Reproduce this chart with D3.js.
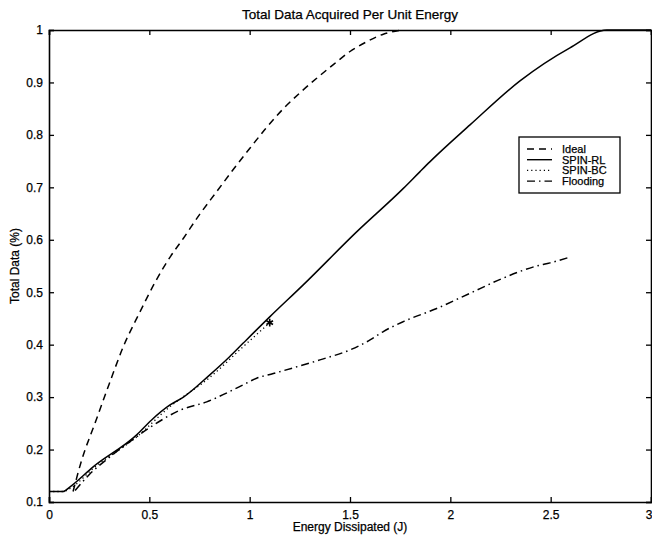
<!DOCTYPE html>
<html><head><meta charset="utf-8">
<script src="https://cdn.jsdelivr.net/npm/d3@7"></script>
<style>
html,body{margin:0;padding:0;background:#fff;}
svg text{font-family:"Liberation Sans",Arial,Helvetica,sans-serif;fill:#000;stroke:#000;stroke-width:0.25px;}
</style></head>
<body><svg id="c" width="652" height="537"></svg>
<script>
const title = "Total Data Acquired Per Unit Energy";
const xLabel = "Energy Dissipated (J)";
const yLabel = "Total Data (%)";
const xTicks = [0, 0.5, 1, 1.5, 2, 2.5, 3];
const yTicks = [0.1, 0.2, 0.3, 0.4, 0.5, 0.6, 0.7, 0.8, 0.9, 1];
const seriesNames = ["Ideal", "SPIN-RL", "SPIN-BC", "Flooding"];

const idealE = [0.12, 0.163, 0.229, 0.30, 0.37, 0.45, 0.53, 0.6, 0.67, 0.75, 0.836, 0.92, 1.0, 1.08, 1.168, 1.25, 1.334, 1.42, 1.5, 1.58, 1.666, 1.76];
const idealV = [0.12, 0.18, 0.25, 0.325, 0.396, 0.46, 0.52, 0.565, 0.603, 0.648, 0.692, 0.735, 0.774, 0.812, 0.85, 0.88, 0.908, 0.935, 0.959, 0.977, 0.992, 1.0];

const rlE = [0, 0.07, 0.105, 0.22, 0.437, 0.51, 0.603, 0.67, 0.80, 0.90, 0.968, 1.10, 1.267, 1.533, 1.766, 1.849, 1.899, 2.098, 2.347, 2.596, 2.78, 3.0];
const rlV = [0.12, 0.12, 0.129, 0.167, 0.228, 0.256, 0.285, 0.30, 0.342, 0.377, 0.403, 0.453, 0.514, 0.615, 0.698, 0.73, 0.749, 0.819, 0.903, 0.966, 1.0, 1.0];

const bcE = [0, 0.07, 0.11, 0.22, 0.44, 0.6, 0.8, 0.97, 1.1];
const bcV = [0.12, 0.12, 0.127, 0.164, 0.225, 0.281, 0.337, 0.397, 0.442];

const floodE = [0.13, 0.2, 0.3, 0.4, 0.495, 0.653, 0.786, 0.95, 1.035, 1.118, 1.35, 1.5, 1.6, 1.666, 1.766, 1.932, 2.098, 2.264, 2.43, 2.497, 2.596];
const floodV = [0.122, 0.152, 0.185, 0.214, 0.24, 0.275, 0.291, 0.32, 0.336, 0.345, 0.371, 0.39, 0.409, 0.425, 0.444, 0.469, 0.498, 0.527, 0.55, 0.556, 0.567];

const svg = d3.select("#c");
const L = 49, R = 651, T = 30, B = 502;
const x = d3.scaleLinear().domain([0, 3]).range([L, R]);
const y = d3.scaleLinear().domain([0.1, 1]).range([B, T]);

const g = svg.append("g");
svg.append("clipPath").attr("id","pc").append("rect")
  .attr("x", L).attr("y", T-1).attr("width", R-L).attr("height", B-T+1);

const line = d3.line().x(d => x(d[0])).y(d => y(d[1])).curve(d3.curveMonotoneX);
const zip = (a, b) => a.map((v, i) => [v, b[i]]);

const styles = {
  "Ideal": "7,5",
  "SPIN-RL": null,
  "SPIN-BC": "1.2,3",
  "Flooding": "8,4,1.5,4"
};
const data = {
  "Ideal": zip(idealE, idealV),
  "SPIN-RL": zip(rlE, rlV),
  "SPIN-BC": zip(bcE, bcV),
  "Flooding": zip(floodE, floodV)
};
const plot = g.append("g").attr("clip-path","url(#pc)");
seriesNames.forEach(n => {
  plot.append("path").datum(data[n]).attr("d", line)
    .attr("fill","none").attr("stroke","#000")
    .attr("stroke-width", n==="SPIN-BC" ? 1.3 : 1.5)
    .attr("stroke-dasharray", styles[n]);
});
const last = data["SPIN-BC"][data["SPIN-BC"].length-1];
plot.append("path").attr("d", d3.symbol().type(d3.symbolAsterisk || d3.symbolCross).size(40)())
  .attr("transform", `translate(${x(last[0])},${y(last[1])})`)
  .attr("fill","none").attr("stroke","#000").attr("stroke-width",1.6);

const tickLen = 5;
const fs = "12px";
const axB = d3.axisBottom(x).tickValues(xTicks).tickSize(-tickLen).tickPadding(8).tickFormat(d3.format("~g"));
const axT = d3.axisTop(x).tickValues(xTicks).tickSize(-tickLen).tickFormat("");
const axL = d3.axisLeft(y).tickValues(yTicks).tickSize(-tickLen).tickPadding(6).tickFormat(d3.format("~g"));
const axR = d3.axisRight(y).tickValues(yTicks).tickSize(-tickLen).tickFormat("");
[[axB, `translate(0,${B})`],[axT, `translate(0,${T})`],[axL, `translate(${L},0)`],[axR, `translate(${R},0)`]].forEach(([a, t]) => {
  const ga = g.append("g").attr("transform", t).call(a);
  ga.select(".domain").attr("stroke","#000").attr("stroke-width",1.6);
  ga.selectAll(".tick line").attr("stroke","#000").attr("stroke-width",1.3);
  ga.selectAll("text").style("font-size", fs).attr("fill","#000");
  if (a === axB) {
    ga.selectAll(".tick text").filter(d => d === 3).attr("text-anchor","end").attr("dx", "1px");
  }
});

g.append("text").attr("x", (L+R)/2).attr("y", 19).attr("text-anchor","middle")
  .style("font-size","13.5px").text(title);
g.append("text").attr("x", (L+R)/2).attr("y", 531).attr("text-anchor","middle")
  .style("font-size","12px").text(xLabel);
g.append("text").attr("transform", `translate(19,${(T+B)/2}) rotate(-90)`).attr("text-anchor","middle")
  .style("font-size","12px").text(yLabel);

const lx = 519, ly = 137, lw = 101, lh = 56;
const lg = g.append("g");
lg.append("rect").attr("x", lx).attr("y", ly).attr("width", lw).attr("height", lh)
  .attr("fill","#fff").attr("stroke","#000").attr("stroke-width",1.3);
const rowY = [149, 159.7, 170.4, 181.1];
seriesNames.forEach((n, i) => {
  lg.append("line").attr("x1", 527).attr("x2", 552).attr("y1", rowY[i]).attr("y2", rowY[i])
    .attr("stroke","#000").attr("stroke-width",1.4).attr("stroke-dasharray", styles[n]);
  lg.append("text").attr("x", 562).attr("y", rowY[i]).attr("dy","0.35em")
    .style("font-size","11px").text(n);
});
</script></body></html>
